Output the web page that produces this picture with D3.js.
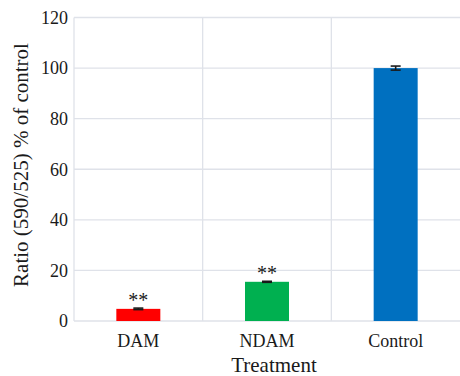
<!DOCTYPE html>
<html>
<head>
<meta charset="utf-8">
<script src="https://cdn.jsdelivr.net/npm/d3@7"></script>
<style>
  html, body { margin: 0; padding: 0; background: #fff; }
  svg { display: block; }
  svg text { font-family: "Liberation Serif", "Times New Roman", serif; fill: #1a1a1a; }
</style>
</head>
<body>
<svg id="chart" width="460" height="376"></svg>
<script>
// Treatment groups and measured ratios (% of control)
const categories = ["DAM", "NDAM", "Control"];
const values = [4.8, 15.5, 100];
const errors = [0.3, 0.2, 0.8];
const significance = ["**", "**", ""];
const colors = ["#ff0000", "#00b050", "#0070c0"];
const yTicks = [0, 20, 40, 60, 80, 100, 120];

const FONT = '"Liberation Serif", "Times New Roman", serif';
const svg = d3.select("#chart");
const margin = { top: 17.5, right: 0, bottom: 55, left: 74 };
const W = 460, H = 376;

const x = d3.scaleBand()
  .domain(categories)
  .range([margin.left, W - margin.right])
  .paddingInner(0).paddingOuter(0);

const y = d3.scaleLinear()
  .domain([0, 120])
  .range([H - margin.bottom, margin.top]);

const gridColor = "#dfe2e9";

// horizontal grid lines
svg.append("g")
  .selectAll("line")
  .data(yTicks)
  .join("line")
  .attr("x1", margin.left).attr("x2", W - margin.right)
  .attr("y1", d => y(d)).attr("y2", d => y(d))
  .attr("stroke", gridColor).attr("stroke-width", 1.3);

// vertical grid lines at band boundaries
const bounds = [margin.left].concat(categories.slice(1).map(c => x(c)));
svg.append("g")
  .selectAll("line")
  .data(bounds)
  .join("line")
  .attr("x1", d => d).attr("x2", d => d)
  .attr("y1", y(120)).attr("y2", y(0))
  .attr("stroke", gridColor).attr("stroke-width", 1.3);

// y axis tick labels
const yAxis = d3.axisLeft(y).tickValues(yTicks).tickSize(0).tickPadding(6);
const gy = svg.append("g")
  .attr("transform", `translate(${margin.left},0)`)
  .call(yAxis)
  .attr("font-family", null).attr("font-size", 18);
gy.select(".domain").remove();
gy.selectAll("text").style("font-family", FONT);

// x axis category labels
const xAxis = d3.axisBottom(x).tickSize(0).tickPadding(13);
const gx = svg.append("g")
  .attr("transform", `translate(0,${y(0)})`)
  .call(xAxis)
  .attr("font-family", null).attr("font-size", 18);
gx.select(".domain").remove();
gx.selectAll("text").style("font-family", FONT);

// bars
const barW = 44;
const data = categories.map((c, i) => ({ c, v: values[i], e: errors[i], s: significance[i], col: colors[i] }));

svg.append("g")
  .selectAll("rect")
  .data(data)
  .join("rect")
  .attr("x", d => x(d.c) + x.bandwidth() / 2 - barW / 2)
  .attr("width", barW)
  .attr("y", d => y(d.v))
  .attr("height", d => y(0) - y(d.v))
  .attr("fill", d => d.col);

// error bars
const capW = 10;
const eb = svg.append("g").attr("stroke", "#1a1a1a").attr("stroke-width", 1.6);
data.forEach(d => {
  const cx = x(d.c) + x.bandwidth() / 2;
  eb.append("line").attr("x1", cx).attr("x2", cx)
    .attr("y1", y(d.v - d.e)).attr("y2", y(d.v + d.e));
  eb.append("line").attr("x1", cx - capW / 2).attr("x2", cx + capW / 2)
    .attr("y1", y(d.v + d.e)).attr("y2", y(d.v + d.e));
  eb.append("line").attr("x1", cx - capW / 2).attr("x2", cx + capW / 2)
    .attr("y1", y(d.v - d.e)).attr("y2", y(d.v - d.e));
});

// significance markers
svg.append("g")
  .selectAll("text")
  .data(data.filter(d => d.s))
  .join("text")
  .attr("x", d => x(d.c) + x.bandwidth() / 2)
  .attr("y", d => y(d.v + d.e) - 1)
  .attr("text-anchor", "middle")
  .attr("font-size", 20)
  .style("font-family", FONT)
  .text(d => d.s);

// axis titles
svg.append("text")
  .attr("x", 274).attr("y", 372)
  .attr("text-anchor", "middle")
  .attr("font-size", 21)
  .style("font-family", FONT)
  .text("Treatment");

svg.append("text")
  .attr("transform", `translate(28,165) rotate(-90)`)
  .attr("text-anchor", "middle")
  .attr("font-size", 21)
  .style("font-family", FONT)
  .text("Ratio (590/525) % of control");
</script>
</body>
</html>
